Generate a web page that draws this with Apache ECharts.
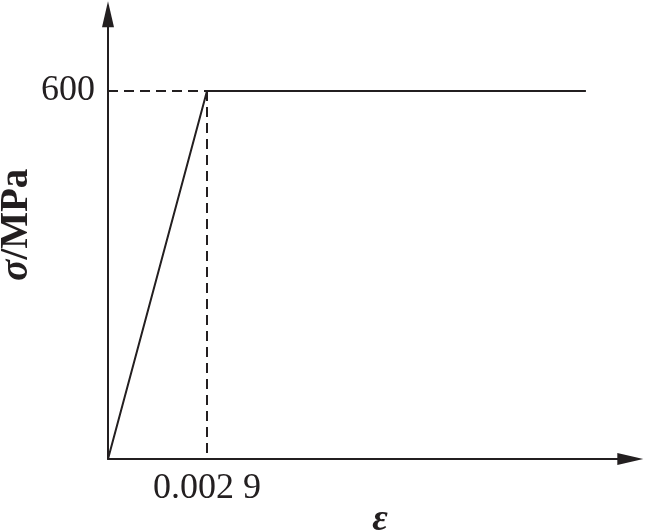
<!DOCTYPE html>
<html>
<head>
<meta charset="utf-8">
<script src="https://cdn.jsdelivr.net/npm/echarts@6/dist/echarts.min.js"></script>
<style>html,body{margin:0;padding:0;background:#fff}#c{width:646px;height:530px}</style>
</head>
<body>
<div id="c"></div>
<script>
// data
var strain = [0, 0.0029, 0.014];
var stress = [0, 600, 600];
var yieldStrain = 0.0029;
var yieldStress = 600;
var xTickValues = [0.0029];
var xTickLabels = ['0.002 9'];
var yTickValues = [600];
var yTickLabels = ['600'];

var FONT = "'Liberation Serif','Times New Roman',serif";
var chart = echarts.init(document.getElementById('c'), null, {renderer: 'canvas'});

var curve = strain.map(function (x, i) { return [x, stress[i]]; });
var dashH = [[0, yieldStress], [yieldStrain, yieldStress]];
var dashV = [[yieldStrain, yieldStress], [yieldStrain, 0]];

chart.setOption({
  animation: false,
  backgroundColor: '#fff',
  grid: {left: 108, bottom: 71, top: 14.3, right: 15.7, containLabel: false, outerBoundsMode: 'none'},
  xAxis: {
    type: 'value', min: 0, max: 0.0153,
    splitLine: {show: false},
    axisTick: {show: false},
    axisLine: {lineStyle: {color: '#231f20', width: 2}, symbol: ['none', 'triangle'], symbolSize: [12, 26]},
    axisLabel: {
      customValues: xTickValues, margin: 12, color: '#231f20',
      fontFamily: FONT, fontSize: 36,
      formatter: function (v) { var i = xTickValues.indexOf(v); return i >= 0 ? xTickLabels[i] : ''; }
    },
    name: 'ε', nameLocation: 'middle', nameGap: 42, nameMoveOverlap: false,
    nameTextStyle: {fontFamily: FONT, fontSize: 38, fontStyle: 'italic', fontWeight: 'bold', color: '#231f20', padding: [0, 0, 0, 22]}
  },
  yAxis: {
    type: 'value', min: 0, max: 725,
    splitLine: {show: false},
    axisTick: {show: false},
    axisLine: {lineStyle: {color: '#231f20', width: 2}, symbol: ['none', 'triangle'], symbolSize: [12, 26]},
    axisLabel: {
      customValues: yTickValues, margin: 13, color: '#231f20',
      fontFamily: FONT, fontSize: 36,
      formatter: function (v) { var i = yTickValues.indexOf(v); return i >= 0 ? yTickLabels[i] : ''; }
    },
    name: '{i|σ}/MPa', nameLocation: 'middle', nameRotate: 90, nameGap: 72, nameMoveOverlap: false,
    nameTextStyle: {
      fontFamily: FONT, fontSize: 39, fontWeight: 'bold', color: '#231f20', padding: [0, 0, 0, 24],
      rich: {i: {fontFamily: FONT, fontSize: 39, fontWeight: 'bold', fontStyle: 'italic', color: '#231f20'}}
    }
  },
  series: [
    {type: 'line', data: curve, symbol: 'none', lineStyle: {color: '#231f20', width: 2}, z: 3},
    {type: 'line', data: dashH, symbol: 'none', lineStyle: {color: '#231f20', width: 2, type: [10, 6]}},
    {type: 'line', data: dashV, symbol: 'none', lineStyle: {color: '#231f20', width: 2, type: [10, 6]}}
  ]
});
</script>
</body>
</html>
